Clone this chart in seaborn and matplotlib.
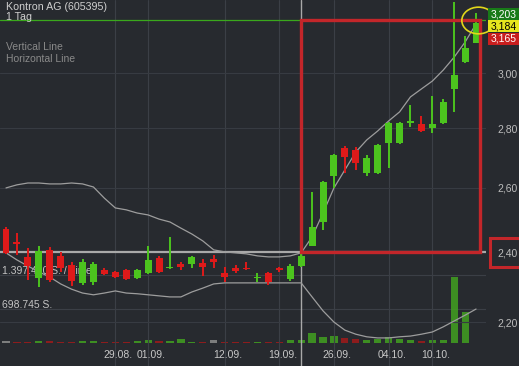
import matplotlib
matplotlib.use("Agg")
import matplotlib.pyplot as plt
import matplotlib.transforms as mtransforms
from matplotlib.patches import Rectangle
from matplotlib.path import Path
from matplotlib.ticker import FixedLocator, NullLocator, FixedFormatter, NullFormatter
import numpy as np
import pandas as pd
import seaborn as sns

# ---------------- data ----------------
title = "Kontron AG (605395)"
period = "1 Tag"
tool_labels = ["Vertical Line", "Horizontal Line"]

opens = [2.470, 2.430, 2.386, 2.324, 2.407, 2.389, 2.363, 2.310, 2.313, 2.347,
         2.342, 2.347, 2.324, 2.339, 2.383, 2.354, 2.365, 2.365, 2.368, 2.380,
         2.339, 2.354, 2.354, 2.324, 2.339, 2.352, 2.322, 2.359, 2.419, 2.492,
         2.639, 2.733, 2.726, 2.649, 2.649, 2.750, 2.750, 2.819, 2.815, 2.802,
         2.819, 2.941, 3.041, 3.114]
highs = [2.475, 2.458, 2.413, 2.419, 2.416, 2.400, 2.371, 2.380, 2.372, 2.352,
         2.345, 2.351, 2.350, 2.419, 2.389, 2.446, 2.371, 2.389, 2.380, 2.392,
         2.356, 2.363, 2.371, 2.339, 2.342, 2.356, 2.365, 2.410, 2.587, 2.622,
         2.712, 2.739, 2.736, 2.709, 2.746, 2.822, 2.822, 2.883, 2.844, 2.915,
         2.904, 3.277, 3.142, 3.233]
lows = [2.396, 2.392, 2.318, 2.298, 2.313, 2.342, 2.301, 2.304, 2.305, 2.333,
        2.325, 2.318, 2.322, 2.336, 2.339, 2.351, 2.347, 2.354, 2.330, 2.354,
        2.313, 2.339, 2.347, 2.313, 2.305, 2.342, 2.316, 2.356, 2.419, 2.467,
        2.600, 2.649, 2.659, 2.639, 2.645, 2.665, 2.747, 2.805, 2.788, 2.784,
        2.815, 2.858, 3.038, 3.114]
closes = [2.398, 2.425, 2.360, 2.404, 2.318, 2.354, 2.316, 2.371, 2.365, 2.336,
          2.327, 2.322, 2.347, 2.377, 2.342, 2.357, 2.355, 2.386, 2.355, 2.372,
          2.327, 2.345, 2.349, 2.328, 2.313, 2.347, 2.359, 2.389, 2.476, 2.619,
          2.709, 2.702, 2.682, 2.699, 2.743, 2.819, 2.819, 2.826, 2.791, 2.815,
          2.893, 2.993, 3.095, 3.193]
volumes = [41000, 30000, 30000, 40000, 40000, 30000, 30000, 40000, 40000, 20000,
           20000, 30000, 40000, 60000, 40000, 40000, 80000, 30000, 20000, 60000,
           20000, 20000, 20000, 20000, 20000, 20000, 60000, 60000, 205000, 123000,
           144000, 103000, 82000, 62000, 82000, 123000, 82000, 62000, 41000, 62000,
           62000, 1356000, 637000, 10000]
volume_trend = ["flat", "down", "down", "up", "down", "down", "down", "up", "up", "down",
                "down", "down", "up", "up", "down", "up", "up", "up", "down", "flat",
                "down", "down", "down", "up", "down", "down", "up", "up", "up", "up",
                "up", "down", "down", "up", "up", "up", "up", "up", "down", "up",
                "up", "up", "up", "up"]
upper_band = [2.600, 2.610, 2.616, 2.616, 2.613, 2.613, 2.616, 2.613, 2.603, 2.567,
              2.536, 2.530, 2.520, 2.514, 2.501, 2.492, 2.473, 2.455, 2.434, 2.407,
              2.401, 2.398, 2.395, 2.389, 2.386, 2.386, 2.389, 2.398, 2.446, 2.520,
              2.600, 2.659, 2.719, 2.760, 2.791, 2.826, 2.858, 2.912, 2.941, 2.970,
              3.011, 3.060, 3.118, 3.189]
lower_band = [2.398, 2.377, 2.359, 2.342, 2.327, 2.307, 2.292, 2.281, 2.276, 2.281,
              2.287, 2.281, 2.279, 2.276, 2.273, 2.270, 2.270, 2.284, 2.295, 2.307,
              2.310, 2.310, 2.310, 2.310, 2.310, 2.310, 2.310, 2.310, 2.270, 2.231,
              2.200, 2.178, 2.167, 2.160, 2.157, 2.157, 2.160, 2.162, 2.167, 2.173,
              2.187, 2.203, 2.219, 2.236]

date_tick_days = [10, 13, 20, 25, 30, 35, 39]
date_tick_labels = ["29.08.", "01.09.", "12.09.", "19.09.", "26.09.", "04.10.", "10.10."]
price_ticks = [2.2, 2.4, 2.6, 2.8, 3.0]
price_tick_labels = ["2,20", "2,40", "2,60", "2,80", "3,00"]
volume_ticks = [698745, 1397490]
volume_tick_labels = ["698.745 S.", "1.397.490 S. / Linie"]
quote_values = [3.203, 3.184, 3.165]
quote_labels = ["3,203", "3,184", "3,165"]
marker_day = 27          # "Vertical Line"
marker_price = 2.40      # "Horizontal Line"
box_end_day = 43.37      # right edge of the drawn red rectangle
circle_day = 43.2

# ---------------- style ----------------
BG = "#272a2f"
GRID = "#373b42"
GREEN = "#4cc41e"
RED = "#de1a1a"
TEXT = "#c8c8c8"

sns.set_theme(style="dark", rc={"axes.facecolor": BG, "figure.facecolor": BG,
                                "patch.edgecolor": "none"})
plt.rcParams["font.family"] = ["Liberation Sans", "DejaVu Sans"]

W, H = 519, 366
fig = plt.figure(figsize=(W / 100, H / 100), dpi=100)
fig.patch.set_facecolor(BG)
AX_RIGHT = 486
ax = fig.add_axes([0, 0, AX_RIGHT / W, 1])
axv = ax.twinx()
ax.set_zorder(axv.get_zorder() + 1)
ax.patch.set_visible(False)
axv.patch.set_facecolor(BG)

df = pd.DataFrame({"day": np.arange(len(opens)), "open": opens, "high": highs,
                   "low": lows, "close": closes, "volume": volumes,
                   "trend": volume_trend, "upper": upper_band, "lower": lower_band})

# ---------------- scales ----------------
ax.set_yscale("log")
ax.set_ylim(2.0829, 3.2855)
ax.set_xlim(-0.549, 43.91)
axv.set_ylim(-472673, 7049000)
axv.set_xlim(ax.get_xlim())

for a in (ax, axv):
    for s in a.spines.values():
        s.set_visible(False)

# price gridlines + labels on the right
ax.yaxis.set_major_locator(FixedLocator(price_ticks))
ax.yaxis.set_major_formatter(FixedFormatter(price_tick_labels))
ax.yaxis.set_minor_locator(NullLocator())
ax.yaxis.set_minor_formatter(NullFormatter())
ax.tick_params(axis="y", which="both", left=False, right=False, labelleft=False,
               labelright=True, length=0, pad=8.5, labelsize=7.5, labelcolor="#bdbdbd")
ax.set_xticks(date_tick_days)
ax.tick_params(axis="x", bottom=False, labelbottom=False, length=0)
ax.grid(axis="y", color=GRID, lw=0.8)
ax.grid(axis="x", color="#3b3f46", lw=0.8)
axv.set_yticks([])
axv.tick_params(right=False, labelright=False)

# ---------------- volume ----------------
vcol = {"up": "#42a020", "down": "#a01a1a", "flat": "#8c8c8c"}
axv.bar(df["day"], df["volume"], width=0.66, color=[vcol[t] for t in df["trend"]],
        edgecolor="none", linewidth=0, alpha=0.85, zorder=2)
blend_v = mtransforms.blended_transform_factory(axv.transAxes, axv.transData)
for v, lab in zip(volume_ticks, volume_tick_labels):
    axv.axhline(v, color="#3b3f46", lw=0.8, zorder=1)
    axv.annotate(lab, xy=(0, v), xycoords=blend_v, xytext=(1.5, 3.2),
                 textcoords="offset points", ha="left", va="center",
                 fontsize=7.5, color="#c4c4c4", zorder=3)

# ---------------- annotations: lines ----------------
ax.axhline(marker_price, color="#a9a9a9", lw=1.6, zorder=2)
ax.axvline(marker_day, color="#a9a9a9", lw=1.0, zorder=2)
ax.axhline(quote_values[0], color="#3aa81c", lw=0.9, zorder=2)

# ---------------- Bollinger bands ----------------
sns.lineplot(data=df, x="day", y="upper", ax=ax, color="#9d9d9d", lw=0.9, zorder=3)
sns.lineplot(data=df, x="day", y="lower", ax=ax, color="#9d9d9d", lw=0.9, zorder=3)
ax.set_xlabel("")
ax.set_ylabel("")
axv.set_ylabel("")

# ---------------- candles ----------------
up = df["close"] >= df["open"]
colors = np.where(up, GREEN, RED)
ax.vlines(df["day"], df["low"], df["high"], colors=colors, lw=1.4, zorder=4)
body_lo = np.minimum(df["open"], df["close"])
body_h = np.maximum(np.abs(df["close"] - df["open"]), 0.0035)
ax.bar(df["day"], body_h, bottom=body_lo, width=0.64, color=colors,
       edgecolor="none", linewidth=0, zorder=5)

# red rectangle drawn on the chart
ax.add_patch(Rectangle((marker_day, marker_price), box_end_day - marker_day,
                       quote_values[0] - marker_price, fill=False,
                       ec="#c3262a", lw=2.4, zorder=6))

# yellow circle at the last candle
ell = Path.unit_circle().transformed(mtransforms.Affine2D().scale(1.0, 0.8))
ax.plot([circle_day], [quote_values[0]], marker=ell, markersize=24,
        markerfacecolor="none", markeredgecolor="#e2d61a", markeredgewidth=1.2,
        zorder=7, clip_on=False)

# date labels inside the plot
blend_x = ax.get_xaxis_transform()
for d, lab in zip(date_tick_days, date_tick_labels):
    ax.annotate(lab, xy=(d, 0), xycoords=blend_x, xytext=(2.2, 8),
                textcoords="offset points", ha="center", va="center",
                fontsize=7.5, color=TEXT, zorder=8)

# ---------------- header texts ----------------
fig.text(6 / W, 1 - 7.5 / H, title, fontsize=7.7, color="#cfcfcf", va="center", ha="left")
fig.text(6 / W, 1 - 16.5 / H, period, fontsize=7.7, color="#cfcfcf", va="center", ha="left")
fig.text(6 / W, 1 - 46.5 / H, tool_labels[0], fontsize=7.5, color="#8a8a8a", va="center", ha="left")
fig.text(6 / W, 1 - 58.5 / H, tool_labels[1], fontsize=7.5, color="#8a8a8a", va="center", ha="left")

# ---------------- quote boxes on the right ----------------
fig.canvas.draw()
box_style = [("#187a18", "white"), ("#e6e61e", "black"), ("#c81e1e", "white")]
top_px = 8.0
for i, (lab, (fc, tc)) in enumerate(zip(quote_labels, box_style)):
    y0 = top_px + i * 12.3
    fig.add_artist(Rectangle((488 / W, 1 - (y0 + 12) / H), 31 / W, 12 / H,
                             transform=fig.transFigure, fc=fc, ec="none", zorder=9))
    fig.text(491 / W, 1 - (y0 + 6.3) / H, lab, fontsize=7.5, color=tc,
             va="center", ha="left", zorder=10)

# red frame around the 2,40 price label
y240 = ax.transData.transform((0, marker_price))[1]
fig.add_artist(Rectangle((489.5 / W, (y240 - 14.5) / H), 30 / W, 29 / H,
                         transform=fig.transFigure, fill=False, ec="#c3262a",
                         lw=2.2, zorder=9))

fig.savefig("out.png", dpi=100, facecolor=BG)
